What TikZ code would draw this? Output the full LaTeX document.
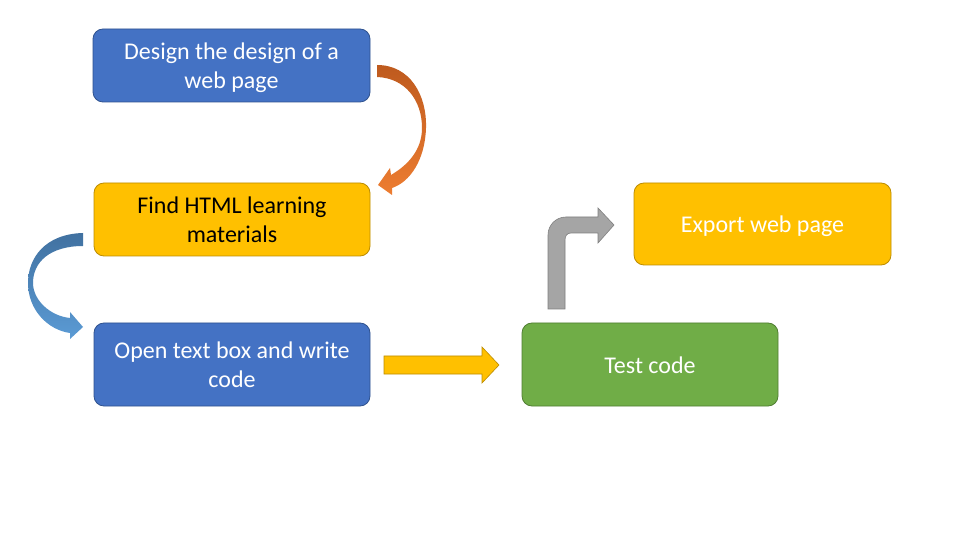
\documentclass[tikz,border=0pt]{standalone}
\usepackage{fontspec}
\setmainfont{Carlito}
\newcommand\bxstrut{\rule[-5.5pt]{0pt}{29pt}}
\definecolor{bluefill}{RGB}{68,114,196}
\definecolor{blueline}{RGB}{47,82,143}
\definecolor{yelfill}{RGB}{255,192,0}
\definecolor{yelline}{RGB}{188,140,0}
\definecolor{grnfill}{RGB}{112,173,71}
\definecolor{grnline}{RGB}{80,126,50}
\definecolor{grayfill}{RGB}{165,165,165}
\definecolor{grayline}{RGB}{128,128,128}
\definecolor{orgtop}{RGB}{190,90,30}
\definecolor{orgbot}{RGB}{237,125,49}
\definecolor{bltop}{RGB}{65,113,160}
\definecolor{blbot}{RGB}{91,155,213}
\tikzset{
  box/.style={rounded corners=10pt, line width=0.8pt, inner sep=0pt, align=center,
    font=\fontsize{24}{29}\selectfont},
  bluebox/.style={box, fill=bluefill, draw=blueline, text=white},
  yelbox/.style={box, fill=yelfill, draw=yelline},
  grnbox/.style={box, fill=grnfill, draw=grnline, text=white},
}
\begin{document}
\begin{tikzpicture}[x=1pt,y=-1pt]
\useasboundingbox (0,0) rectangle (958,534);
\fill[white] (0,0) rectangle (958,534);
\node[bluebox, minimum width=277pt, minimum height=73pt] (design) at (231.5,65.5) {\bxstrut Design the design of a\\\bxstrut web page};
\node[yelbox, minimum width=276pt, minimum height=73pt] (find) at (232,219.5) {\bxstrut Find HTML learning\\\bxstrut materials};
\node[bluebox, minimum width=276pt, minimum height=83pt] (open) at (232,364.5) {\bxstrut Open text box and write\\\bxstrut code};
\node[grnbox, minimum width=256pt, minimum height=83pt] (test) at (650,364.5) {\bxstrut Test code};
\node[yelbox, minimum width=257pt, minimum height=82pt, text=white] (export) at (762.5,224) {\bxstrut Export web page};
% orange curved arrow
\shade[top color=orgtop, bottom color=orgbot]
  (377,65) .. controls (410,65) and (427,95) .. (426,128)
  .. controls (425,160) and (410,182) .. (392,188)
  -- (392,195) -- (378,185) -- (390,168) -- (391,175)
  .. controls (408,165) and (422,150) .. (422,128)
  .. controls (422,100) and (405,78) .. (377,77) -- cycle;
% blue curved arrow
\shade[top color=bltop, bottom color=blbot]
  (83,233) .. controls (45,234) and (28,258) .. (28,283)
  .. controls (28,310) and (48,330) .. (70,333)
  -- (70,339) -- (83,327) -- (70,312) -- (70,318)
  .. controls (50,316) and (33,300) .. (33,283)
  .. controls (33,262) and (50,246) .. (83,246) -- cycle;
% yellow straight arrow
\draw[fill=yelfill, draw=yelline, line width=0.6pt]
  (384,356) -- (482,356) -- (482,347) -- (499,365) -- (482,383) -- (482,374) -- (384,374) -- cycle;
% gray bent arrow
\draw[fill=grayfill, draw=grayline, line width=0.6pt]
  (548,309) -- (548,235) .. controls (548,225) and (556,217) .. (566,217)
  -- (598,217) -- (598,208) -- (614,225) -- (598,243) -- (598,233) -- (571,233)
  .. controls (567,233) and (565,236) .. (565,240) -- (565,309) -- cycle;
\end{tikzpicture}
\end{document}
